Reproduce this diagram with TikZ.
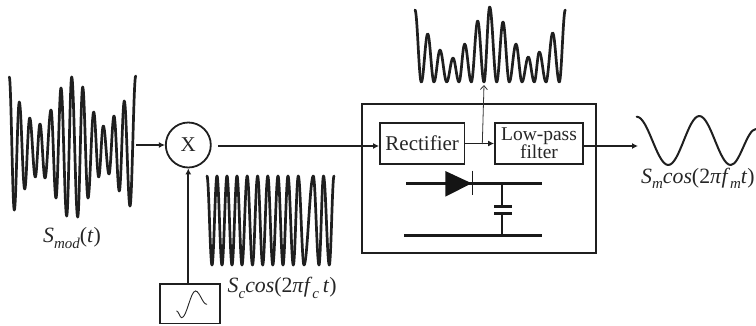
\documentclass[tikz,border=0pt]{standalone}
\usepackage{fontspec}
\setmainfont{Liberation Serif}
\usetikzlibrary{arrows.meta,calc}
\newcommand{\lowsub}[1]{\raisebox{-5.5pt}{\fontsize{15}{15}\selectfont\textit{#1}}}
\newcommand{\wavepath}[4]{% style, x0, y0, list
  \foreach \cx/\cy [remember=\cx as \px (initially #2), remember=\cy as \py (initially #3)] in {#4} {
    \pgfmathsetmacro{\ca}{\px+0.364*(\cx-\px)}
    \pgfmathsetmacro{\cb}{\cx-0.364*(\cx-\px)}
    \draw[#1] (\px,\py) .. controls (\ca,\py) and (\cb,\cy) .. (\cx,\cy);
  }}
\tikzset{
  wavethick/.style={line width=2.7pt,line cap=round,color=black!88},
  wavethin/.style={line width=2pt,line cap=round,color=black!88},
  sinesmall/.style={line width=0.9pt,line cap=round,color=black!85},
  blockbox/.style={draw=black!88,line width=1.8pt,fill=white,inner sep=0pt,align=center,text=black!85},
  outerbox/.style={draw=black!88,line width=2.2pt,inner sep=0pt},
  conn/.style={line width=1.9pt,color=black!88,-{Latex[length=6pt,width=6pt]}},
  thinconn/.style={line width=0.8pt,color=black!80,-{Straight Barb[length=4pt,width=7pt]}},
  wire/.style={line width=2.5pt,color=black!90},
  lab/.style={inner sep=0pt,anchor=base west,font=\fontsize{21.8}{23}\selectfont,text=black!85},
}
\begin{document}
\begin{tikzpicture}[x=1pt,y=-1pt]
\useasboundingbox (0,0) rectangle (756,325);
% blocks
\node[outerbox,minimum width=233.4pt,minimum height=148.7pt] (outer) at (479,178.7) {};
\node[blockbox,minimum width=84.5pt,minimum height=41.5pt,font=\fontsize{21}{22}\selectfont] (rect) at (422.2,143.5) {Rectifier};
\node[blockbox,minimum width=88pt,minimum height=41.5pt,font=\fontsize{19.5}{20}\selectfont] (lpf) at (539,143.5) {Low-pass\\[-2pt]filter};
\node[draw=black!88,line width=1.8pt,circle,minimum size=45pt,inner sep=0pt,font=\fontsize{21}{21}\selectfont,text=black!85] (mix) at (188.3,145) {X};
\node[blockbox,minimum width=60pt,minimum height=39.5pt] (osc) at (190.3,303.7) {};
% modulated wave
\wavepath{wavethick}{9.3}{77}{14.3/210,19.3/102,24.7/189,29.7/118,35.3/177,40/124,45/178,51/110,56/198,61/88,66.7/216,71.7/77,77.7/217,82.7/87,88/198,93.7/112,98.7/177,103.3/126,109/174,114/116,119.3/191,124.3/101,130/206,135.7/76}
\coordinate (modout) at (136,145);
% carrier
\wavepath{wavethick}{207}{176}{212/265,217/176,222/265,227/176,232/265,237/176,242/265,247.2/176,252.5/265,257.6/176,262.7/265,267.8/176,272.8/265,278/176,283/265,288/176,293.3/265,298.3/176,304/265,313.3/176,319/265,323.5/176,329.3/265,334/176}
% rectified
\wavepath{wavethick}{415}{10}{421.3/82,427.7/34,434/82,440/50,446.7/82,453/58,459/82,464.7/44,471.3/82,477.7/21,484/82,489.7/7,496.7/82,503/22,509.3/82,516/44,522/82,528.3/57,534.3/82,539.3/52,546/82,552.7/33,559.3/82,565.3/10}
\coordinate (rectpeak) at (484,85);
% output sine
\wavepath{wavethin}{636.7}{116.7}{668.3/165,699.3/116,730.7/165,756/129}
\coordinate (outin) at (638,146);
% oscillator sine
\wavepath{sinesmall}{176.7}{311}{181.7/317.7,195.5/291,206.7/304.3}
% connectors
\coordinate (mixout) at (218.3,146);
\coordinate (tapfoot) at (482.3,144);
\draw[conn] (modout) -- (mix.west);
\draw[conn] (osc.north -| mix.south) -- (mix.south);
\draw[conn] (mixout) -- (mixout -| rect.west);
\draw[conn] (rect.east) -- (lpf.west);
\draw[conn] (lpf.east |- outin) -- (outin);
\draw[thinconn] (tapfoot) -- (rectpeak);
% circuit
\coordinate (capjoin) at (502,183.3);
\coordinate (capbot) at (502,235.7);
\coordinate (plateA) at (502,206.3);
\coordinate (plateB) at (502,213.3);
\draw[wire] (406,183.3) -- (541.7,183.3);
\draw[wire] (404,235.7) -- (541.7,235.7);
\draw[wire,line width=1.8pt] (capjoin) -- (plateA);
\draw[wire,line width=1.8pt] (plateB) -- (capbot);
\draw[wire] (494,206.3) -- (512,206.3);
\draw[wire] (494,213.3) -- (512,213.3);
\fill[black!92] (445.3,171) -- (471.7,183.3) -- (445.3,196.7) -- cycle;
\draw[line width=1.4pt,color=black!90] (472.3,170.7) -- (472.3,195);
% labels
\node[lab] (lmod) at (43,242.7) {\textit{S}\lowsub{mod}(\textit{t})};
\node[lab] (lc) at (227.5,292.5) {\textit{S}\lowsub{c}\textit{cos}(2\textit{π}\textit{f}\lowsub{c}\,\textit{t})};
\node[lab] (lm) at (641,183) {\textit{S}\lowsub{m}\textit{cos}(2\textit{π}\textit{f}\lowsub{m}\textit{t})};
\end{tikzpicture}
\end{document}
